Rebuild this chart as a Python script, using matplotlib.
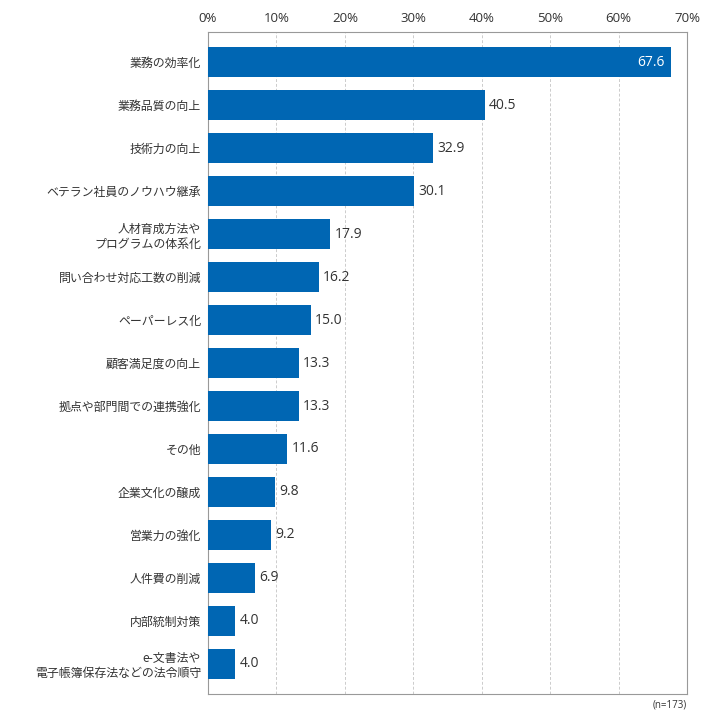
import matplotlib
matplotlib.use("Agg")
import matplotlib.pyplot as plt
from matplotlib.ticker import FuncFormatter

plt.rcParams['font.family'] = ['Noto Sans CJK JP', 'DejaVu Sans']

categories = [
    "業務の効率化",
    "業務品質の向上",
    "技術力の向上",
    "ベテラン社員のノウハウ継承",
    "人材育成方法や\nプログラムの体系化",
    "問い合わせ対応工数の削減",
    "ペーパーレス化",
    "顧客満足度の向上",
    "拠点や部門間での連携強化",
    "その他",
    "企業文化の醸成",
    "営業力の強化",
    "人件費の削減",
    "内部統制対策",
    "e-文書法や\n電子帳簿保存法などの法令順守",
]
values = [67.6, 40.5, 32.9, 30.1, 17.9, 16.2, 15.0, 13.3, 13.3, 11.6, 9.8, 9.2, 6.9, 4.0, 4.0]
xticks = [0, 10, 20, 30, 40, 50, 60, 70]
note = "(n=173)"

bar_color = "#0066b3"
text_color = "#333333"
num_font = ['Open Sans', 'DejaVu Sans']

fig = plt.figure(figsize=(7.28, 7.28), dpi=100)
ax = fig.add_axes([0.2857, 0.0467, 0.658, 0.9093])

ypos = list(range(len(categories)))
ax.barh(ypos, values, height=0.71, color=bar_color, zorder=3)

ax.set_xlim(0, 70)
ax.set_ylim(len(categories) - 0.3, -0.7)
ax.set_xticks(xticks)
ax.xaxis.set_major_formatter(FuncFormatter(lambda v, p: f"{int(v)}%"))
ax.xaxis.tick_top()
ax.tick_params(axis='x', length=0, pad=5, labelsize=9.5, labelcolor=text_color)
for lab in ax.get_xticklabels():
    lab.set_family(num_font)
ax.set_yticks(ypos)
ax.set_yticklabels(categories, fontsize=8.6, color=text_color, linespacing=1.2)
ax.tick_params(axis='y', length=0, pad=5)
for lab in ax.get_yticklabels():
    lab.set_horizontalalignment('right')
    lab.set_multialignment('right')

ax.grid(axis='x', color="#cccccc", linestyle=(0, (3, 2)), linewidth=0.7, zorder=0)
for s in ax.spines.values():
    s.set_color("#999999")
    s.set_linewidth(0.8)

for i, v in enumerate(values):
    if i == 0:
        ax.text(v - 0.8, i, f"{v:.1f}", ha='right', va='center', color='white',
                fontsize=10, family=num_font)
    else:
        ax.text(v + 0.6, i, f"{v:.1f}", ha='left', va='center', color=text_color,
                fontsize=10, family=num_font)

fig.text(0.9437, 0.032, note, ha='right', va='center', fontsize=7, color=text_color,
         family=num_font)

fig.savefig("out.png", dpi=100)
